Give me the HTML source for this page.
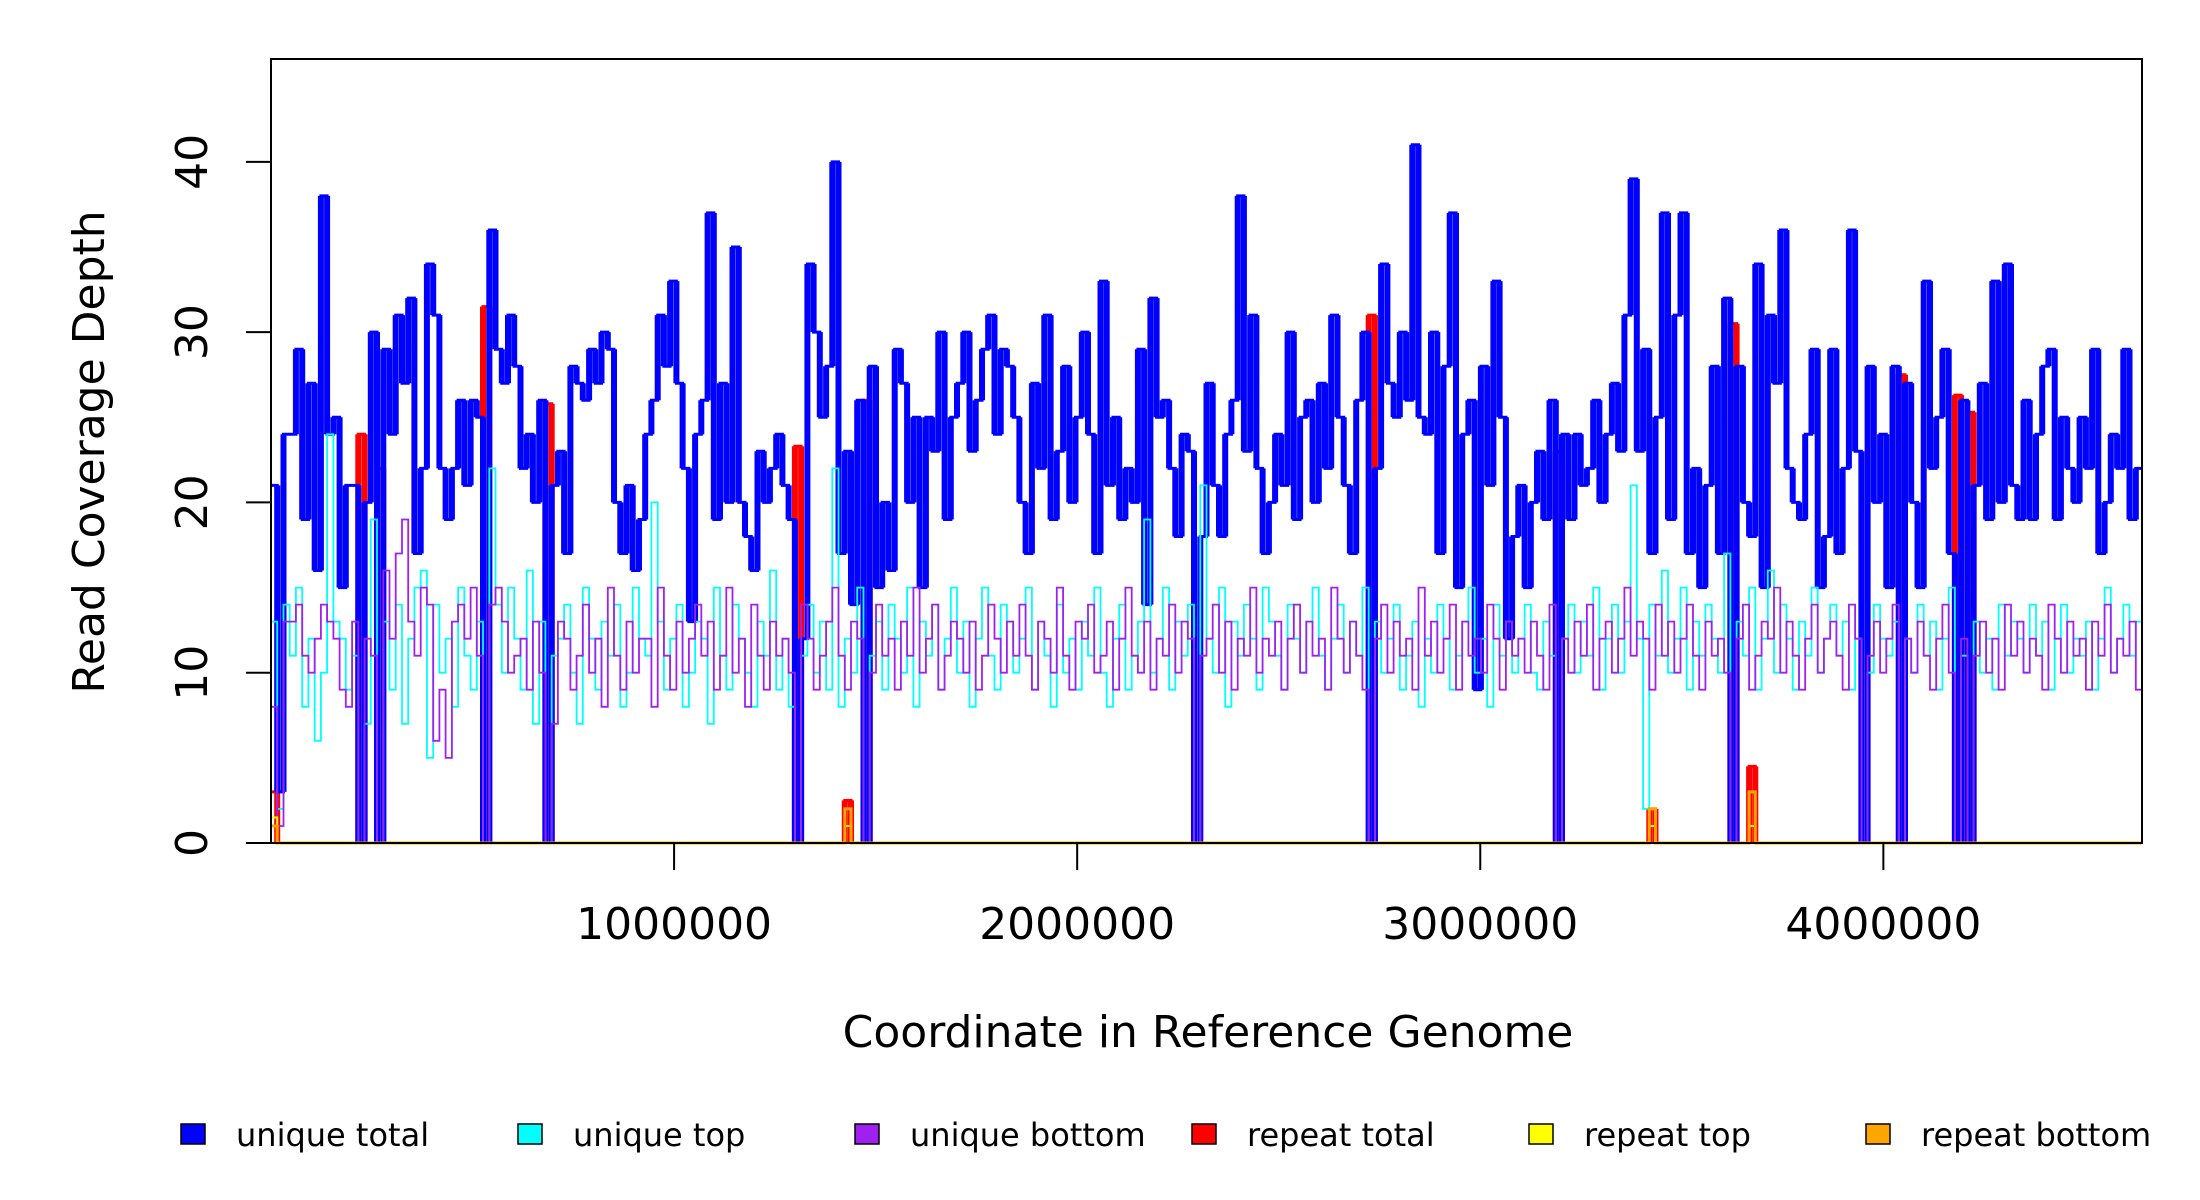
<!DOCTYPE html>
<html><head><meta charset="utf-8"><style>
html,body{margin:0;padding:0;background:#fff;}
svg{display:block;font-family:"DejaVu Sans","Liberation Sans",sans-serif;}
</style></head><body>
<svg id="chart" width="2200" height="1200" viewBox="0 0 2200 1200" xmlns="http://www.w3.org/2000/svg">
<g id="series"></g>
<rect x="271" y="59" width="1871" height="784" fill="none" stroke="#000" stroke-width="2"/>
<g id="axes"></g>
<text x="1208" y="1047" font-size="44" text-anchor="middle">Coordinate in Reference Genome</text>
<text transform="translate(104,452) rotate(-90)" font-size="44" text-anchor="middle">Read Coverage Depth</text>
<g id="legend"></g>
</svg>
<script>
const genomeLength = 4641652;
const uniqueTotal = [21,3,24,24,29,19,27,16,38,24, 25,15,21,21,0,20,30,0,29,24, 31,27,32,17,22,34,31,22,19,22, 26,21,26,25,0,36,29,27,31,28,
22,24,20,26,0,21,23,17,28,27, 26,29,27,30,29,20,17,21,16,19, 24,26,31,28,33,27,22,13,24,26, 37,19,27,20,35,20,18,16,23,20,
22,24,21,19,0,12,34,30,25,28, 40,17,23,14,26,0,28,15,20,16, 29,27,20,25,15,25,23,30,19,25, 27,30,23,26,29,31,24,29,28,25,
20,17,27,22,31,19,23,28,20,25, 30,24,17,33,21,25,19,22,20,29, 14,32,25,26,22,18,24,23,0,18, 27,21,18,24,26,38,23,31,22,17,
20,24,21,30,19,25,26,20,27,22, 31,25,21,17,26,30,0,22,34,27, 25,30,26,41,25,24,30,17,28,37, 15,24,26,9,28,21,33,25,12,18,
21,15,20,23,19,26,0,24,19,24, 21,22,26,20,24,27,23,31,39,23, 29,17,25,37,19,31,37,17,22,15, 21,28,17,32,0,28,20,18,34,15,
31,27,36,22,20,19,24,29,15,18, 29,17,22,36,23,0,28,20,24,15, 28,0,27,20,15,33,22,25,29,17, 0,26,0,21,27,19,33,20,34,21,
19,26,19,24,28,29,19,25,22,20, 25,22,29,17,20,24,22,29,19,22];
const uniqueTop = [13,2,14,11,15,8,12,6,10,24, 13,12,9,11,0,7,19,0,13,9, 14,7,12,15,16,5,14,10,12,8, 15,11,9,13,0,22,14,10,15,12,
9,16,7,13,0,11,12,14,10,7, 15,12,9,13,11,14,8,10,15,12, 11,20,13,9,12,14,8,10,13,12, 7,15,11,9,14,12,10,8,13,11,
16,9,12,8,0,11,14,10,13,9, 22,8,12,10,15,0,11,13,9,14, 12,10,15,8,13,11,14,9,12,15, 10,13,8,12,15,11,9,14,13,10,
12,15,9,13,11,8,14,10,12,9, 13,11,15,10,8,12,14,9,11,13, 19,10,12,15,9,13,11,14,0,21, 12,10,15,8,13,11,14,12,9,15,
13,11,9,14,12,10,13,15,11,9, 12,14,10,13,11,15,0,13,10,12, 14,9,11,13,8,12,10,14,12,9, 11,13,15,10,12,8,14,11,13,10,
12,14,10,9,13,11,0,12,14,10, 13,11,15,9,12,14,10,13,21,12, 2,14,11,16,10,12,15,9,13,11, 14,12,10,17,0,13,11,15,9,12,
16,10,14,12,9,13,11,15,10,12, 14,11,13,9,12,0,10,14,12,11, 13,0,12,10,14,11,13,9,12,15, 0,11,0,13,10,12,9,14,11,13,
12,10,14,11,13,9,12,14,10,12, 11,13,9,12,15,10,12,14,11,13];
const uniqueBottom = [8,1,13,13,14,11,10,12,14,13, 12,9,8,13,0,12,11,0,16,12, 17,19,13,11,15,14,6,9,5,13,
14,12,15,11,0,14,15,13,10,11, 12,9,13,10,0,7,13,12,9,11, 14,10,12,8,15,11,9,13,10,12, 12,8,15,11,9,13,10,12,14,11, 13,9,11,15,10,12,8,14,11,9,
13,11,12,10,0,14,12,9,11,13, 15,11,9,13,12,0,10,14,11,12, 9,13,11,15,10,12,14,9,11,13, 12,10,13,9,11,14,12,10,13,11,
14,11,9,13,12,10,15,11,9,13, 12,14,10,11,13,9,12,15,11,10, 13,9,12,11,14,10,13,12,0,11, 12,14,10,13,9,12,11,15,10,12,
11,13,9,12,14,10,13,11,12,9, 15,12,10,13,11,9,0,12,14,10, 13,11,12,9,15,11,13,10,12,14, 9,13,11,12,10,14,12,9,13,11,
12,10,13,11,9,14,0,12,10,13, 11,14,9,12,13,10,12,15,11,13, 12,9,14,11,13,10,12,14,11,9, 13,11,12,10,0,12,14,9,11,13,
12,15,10,13,11,9,12,14,10,12, 13,11,9,14,12,0,11,13,10,12, 14,0,12,10,13,11,9,12,14,10, 0,12,0,11,13,10,12,9,14,11,
13,10,12,11,9,14,12,10,13,11, 12,9,13,11,14,10,12,11,13,9];
const repeatBins = [0,14,17,34,44,84,92,95,176,206,221,234,237,261,270,272];
const repeatTotal = [3,24,22,31.5,25.8,23.3,2.5,26,31,23,2,30.5,4.5,27.5,26.3,25.3];
const repeatTop = [1.5,0,0,0,0,0,1,0,0,0,1,0,1,0,0,0];
const repeatBottom = [1,0,0,0,0,0,2,0,0,0,2,0,3,0,0,0];
const yTicks = [0,10,20,30,40];
const xTicks = [1000000,2000000,3000000,4000000];
const legendLabels = ["unique total","unique top","unique bottom","repeat total","repeat top","repeat bottom"];
const legendColors = ["#0000ff","#00ffff","#a020f0","#ff0000","#ffff00","#ffa500"];

const NS = "http://www.w3.org/2000/svg";
const PL = 271, PR = 2142, PB = 843, PT = 59, YMAX = 46.04;
function xs(v){ return PL + v / genomeLength * (PR - PL); }
function ys(v){ return PB - v / YMAX * (PB - PT); }
const nb = uniqueTotal.length;
const binW = genomeLength / nb;

function stepPath(vals){
  let d = "";
  for (let i = 0; i < vals.length; i++) {
    const x0 = xs(i * binW), x1 = xs((i + 1) * binW), y = ys(vals[i]);
    d += (i === 0 ? "M" : "L") + x0.toFixed(1) + "," + y.toFixed(1) + "L" + x1.toFixed(1) + "," + y.toFixed(1);
  }
  return d;
}
function sparse(bins, vals){
  const a = new Array(nb).fill(0);
  bins.forEach((b, k) => { a[b] = vals[k]; });
  return a;
}
const series = document.getElementById("series");
function addPath(d, color, w, name){
  const p = document.createElementNS(NS, "path");
  p.setAttribute("d", d);
  p.setAttribute("fill", "none");
  p.setAttribute("stroke", color);
  p.setAttribute("stroke-width", w);
  
  
  series.appendChild(p);
}
function verticals(vals){
  let d = "";
  for (let i = 1; i < vals.length; i++) {
    const x = xs(i * binW);
    d += "M" + x.toFixed(1) + "," + ys(vals[i-1]).toFixed(1) + "L" + x.toFixed(1) + "," + ys(vals[i]).toFixed(1);
  }
  return d;
}
const rt = sparse(repeatBins, repeatTotal);
addPath(stepPath(rt), "#ff0000", 3, "repeat-total-line");
addPath(verticals(rt), "#ff0000", 6, "repeat-total-verticals");
addPath(stepPath(uniqueTotal), "#0000ff", 3, "unique-total-line");
addPath(verticals(uniqueTotal), "#0000ff", 6, "unique-total-verticals");
addPath(stepPath(uniqueTop), "#00ffff", 1.8, "unique-top-line");
addPath(stepPath(uniqueBottom), "#a020f0", 1.8, "unique-bottom-line");
addPath(stepPath(sparse(repeatBins, repeatTop)), "#ffff00", 2, "repeat-top-line");
addPath(stepPath(sparse(repeatBins, repeatBottom)), "#ffa500", 3, "repeat-bottom-line");

const axes = document.getElementById("axes");
yTicks.forEach(t => {
  const l = document.createElementNS(NS, "line");
  l.setAttribute("x1", PL); l.setAttribute("x2", PL - 25);
  l.setAttribute("y1", ys(t)); l.setAttribute("y2", ys(t));
  l.setAttribute("stroke", "#000"); l.setAttribute("stroke-width", 2);
  
  
  axes.appendChild(l);
  const tx = document.createElementNS(NS, "text");
  tx.setAttribute("transform", "translate(207," + ys(t) + ") rotate(-90)");
  tx.setAttribute("font-size", "44"); tx.setAttribute("text-anchor", "middle");
  tx.textContent = String(t);
  
  
  axes.appendChild(tx);
});
xTicks.forEach(t => {
  const l = document.createElementNS(NS, "line");
  l.setAttribute("x1", xs(t)); l.setAttribute("x2", xs(t));
  l.setAttribute("y1", PB); l.setAttribute("y2", PB + 27);
  l.setAttribute("stroke", "#000"); l.setAttribute("stroke-width", 2);
  
  
  axes.appendChild(l);
  const tx = document.createElementNS(NS, "text");
  tx.setAttribute("x", xs(t)); tx.setAttribute("y", 939);
  tx.setAttribute("font-size", "44"); tx.setAttribute("text-anchor", "middle");
  tx.textContent = String(t);
  
  
  axes.appendChild(tx);
});
const legend = document.getElementById("legend");
legendLabels.forEach((lab, i) => {
  const bx = 181 + i * 337;
  const r = document.createElementNS(NS, "rect");
  r.setAttribute("x", bx); r.setAttribute("y", 1124);
  r.setAttribute("width", 24); r.setAttribute("height", 20);
  r.setAttribute("fill", legendColors[i]); r.setAttribute("stroke", "#000"); r.setAttribute("stroke-width", 1.5);
  
  
  legend.appendChild(r);
  const tx = document.createElementNS(NS, "text");
  tx.setAttribute("x", bx + 55); tx.setAttribute("y", 1146);
  tx.setAttribute("font-size", "32");
  tx.textContent = lab;
  
  
  legend.appendChild(tx);
});
</script>
</body></html>
